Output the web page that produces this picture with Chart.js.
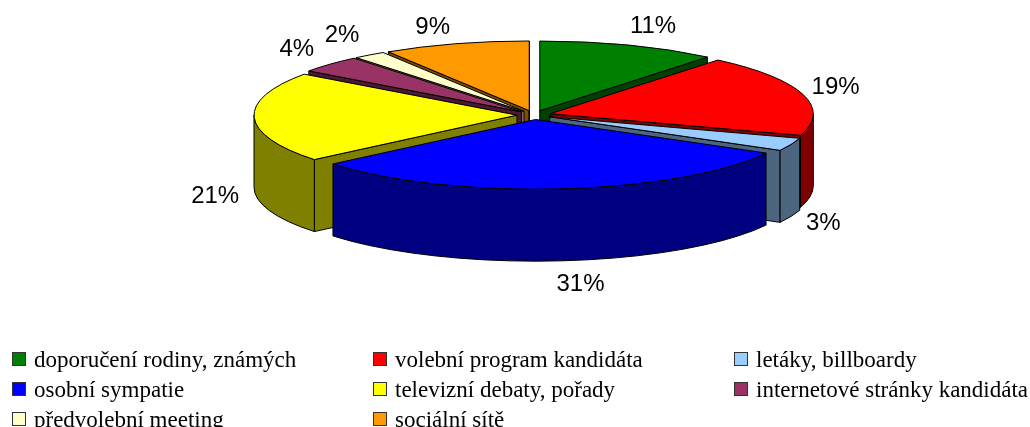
<!DOCTYPE html>
<html>
<head>
<meta charset="utf-8">
<script src="https://cdn.jsdelivr.net/npm/chart.js@4"></script>
<style>
    html, body { margin: 0; padding: 0; background: #fff; overflow: hidden; }
    canvas { display: block; }
</style>
</head>
<body>
<canvas id="Chart1" width="1030" height="427"></canvas>
<script>
const categories = ['doporučení rodiny, známých', 'volební program kandidáta', 'letáky, billboardy', 'osobní sympatie', 'televizní debaty, pořady', 'internetové stránky kandidáta', 'předvolební meeting', 'sociální sítě']
const shares = [11, 19, 3, 31, 21, 4, 2, 9]
const topColors = ['#008000', '#FF0000', '#99CCFF', '#0000FF', '#FFFF00', '#993366', '#FFFFCC', '#FF9900']
const wallColors = ['#004000', '#800000', '#4C6680', '#000080', '#808000', '#4C1933', '#808066', '#804C00']

const squash = 0.265
const depth = 72
const sliceOffset = 17
// small shifts of the percent labels away from their computed spot
const labelNudgeX = [13, 1, 2, 17, -6, -9, -8, -14]
const labelNudgeY = [-2, -2, 0, 6, 6, -3, -5, 0]

// flat arcs from the pie controller are redrawn here as squashed slices with walls
const drawWalls = (ctx, s, i) => {
    ctx.fillStyle = wallColors[i]
    ctx.strokeStyle = '#000'
    ctx.lineWidth = 1

    const cut = angle => {
        ctx.beginPath()
        ctx.moveTo(s.x, s.y)
        ctx.lineTo(s.x + Math.cos(angle) * s.r, s.y + Math.sin(angle) * s.ry)
        ctx.lineTo(s.x + Math.cos(angle) * s.r, s.y + Math.sin(angle) * s.ry + depth)
        ctx.lineTo(s.x, s.y + depth)
        ctx.closePath()
        ctx.fill()
        ctx.stroke()
    }
    if (Math.cos(s.start) < 0) cut(s.start)
    if (Math.cos(s.end) > 0) cut(s.end)

    const lo = Math.max(s.start, 0)
    const hi = Math.min(s.end, Math.PI)
    if (lo < hi) {
        ctx.beginPath()
        ctx.ellipse(s.x, s.y, s.r, s.ry, 0, lo, hi)
        ctx.ellipse(s.x, s.y + depth, s.r, s.ry, 0, hi, lo, true)
        ctx.closePath()
        ctx.fill()
        ctx.stroke()
    }
}

const drawTop = (ctx, s, i) => {
    ctx.fillStyle = topColors[i]
    ctx.strokeStyle = '#000'
    ctx.lineWidth = 1
    ctx.beginPath()
    ctx.moveTo(s.x, s.y)
    ctx.ellipse(s.x, s.y, s.r, s.ry, 0, s.start, s.end)
    ctx.closePath()
    ctx.fill()
    ctx.stroke()
}

const pie3d = {
    id: 'pie3d',
    beforeDatasetDraw(chart) {
        const ctx = chart.ctx
        const slices = chart.getDatasetMeta(0).data.map((arc, i) => {
            const p = arc.getProps(['x', 'y', 'startAngle', 'endAngle', 'outerRadius'], true)
            const mid = (p.startAngle + p.endAngle) / 2
            const off = arc.options.offset
            return {
                i, mid,
                start: p.startAngle,
                end: p.endAngle,
                r: p.outerRadius,
                ry: p.outerRadius * squash,
                x: p.x + Math.cos(mid) * off,
                y: p.y + Math.sin(mid) * off * squash
            }
        })
        // back slices first so the front ones cover them
        const order = [...slices].sort((a, b) => Math.sin(a.mid) - Math.sin(b.mid))
        order.forEach(s => {
            drawWalls(ctx, s, s.i)
            drawTop(ctx, s, s.i)
        })
        return false
    },
    afterDraw(chart) {
        const ctx = chart.ctx
        const meta = chart.getDatasetMeta(0).data

        ctx.save()
        ctx.fillStyle = '#000'
        ctx.font = '24px "Liberation Sans"'
        ctx.textAlign = 'center'
        ctx.textBaseline = 'middle'
        meta.forEach((arc, i) => {
            const p = arc.getProps(['x', 'y', 'startAngle', 'endAngle', 'outerRadius'], true)
            const mid = (p.startAngle + p.endAngle) / 2
            const lx = p.x + Math.cos(mid) * (p.outerRadius + 50)
            let ly = p.y + Math.sin(mid) * (p.outerRadius * squash + 22)
            if (Math.sin(mid) > 0 || Math.cos(mid) < -0.9) ly += depth
            ctx.fillText(shares[i] + '%', lx + labelNudgeX[i], ly + labelNudgeY[i])
        })

        ctx.font = '23px "Liberation Serif"'
        ctx.textAlign = 'left'
        ctx.textBaseline = 'alphabetic'
        categories.forEach((name, i) => {
            const left = 12 + (i % 3) * 361
            const top = 352 + Math.floor(i / 3) * 30
            ctx.fillStyle = topColors[i]
            ctx.strokeStyle = '#333'
            ctx.lineWidth = 1
            ctx.fillRect(left + 0.5, top + 0.5, 13, 13)
            ctx.strokeRect(left + 0.5, top + 0.5, 13, 13)
            ctx.fillStyle = '#000'
            ctx.fillText(name, left + 22, top + 15)
        })
        ctx.restore()
    }
}

const renderChart = () => {
    new Chart('Chart1', {
        type: 'pie',
        data: {
            labels: categories,
            datasets: [{
                data: shares,
                backgroundColor: topColors,
                borderColor: '#000',
                borderWidth: 1,
                offset: sliceOffset,
                clip: false
            }]
        },
        options: {
            responsive: false,
            animation: false,
            radius: 263,
            layout: { padding: { left: 38, right: 0, top: 0, bottom: 197 } },
            plugins: {
                legend: { display: false },
                tooltip: { enabled: false }
            }
        },
        plugins: [pie3d]
    })
}

renderChart()
</script>
</body>
</html>
